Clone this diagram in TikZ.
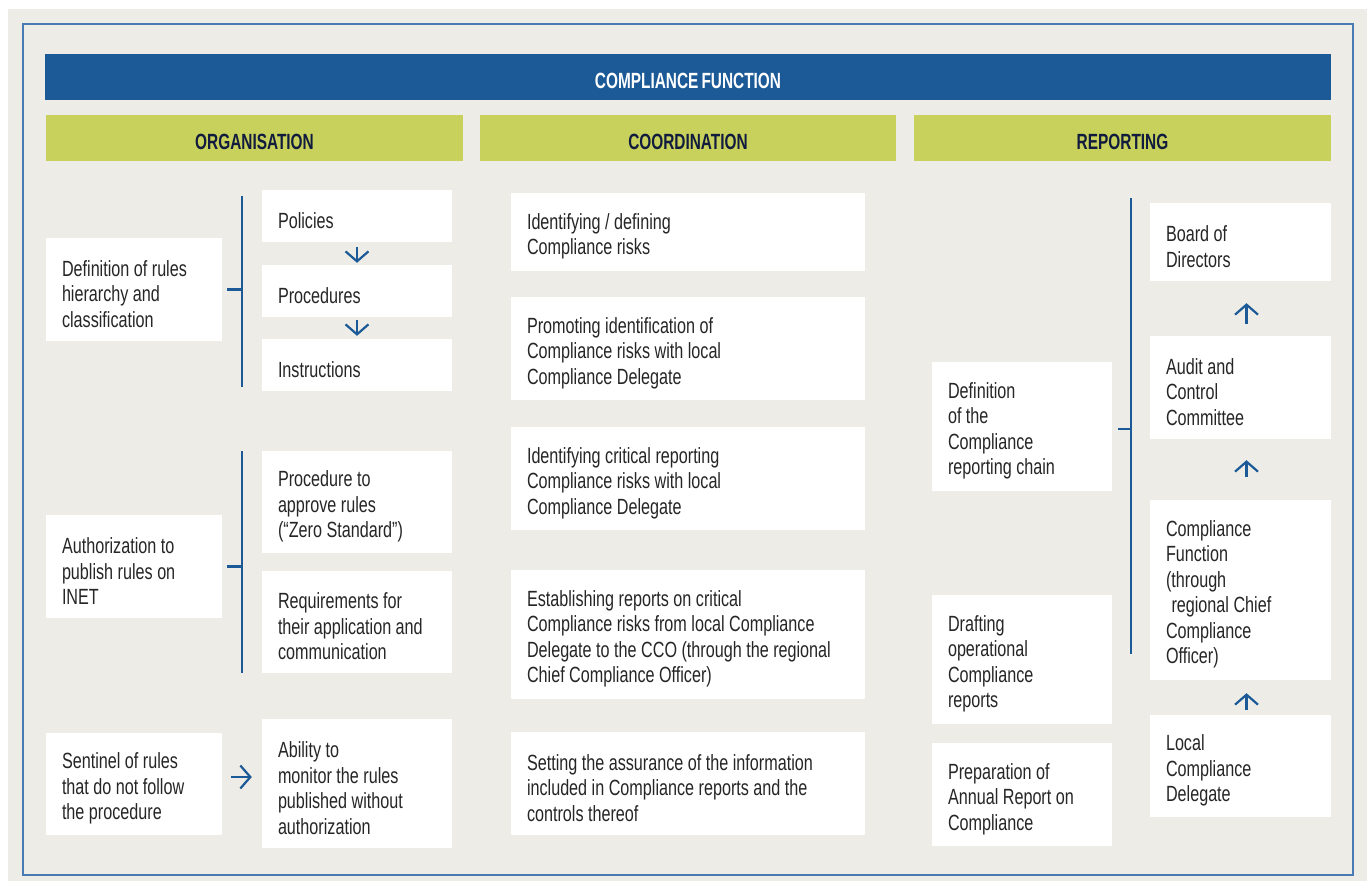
\documentclass[tikz,border=0pt]{standalone}
\usepackage{fontspec}
\setmainfont{Liberation Sans}[FakeStretch=0.735]
\newfontfamily\hdfont{Liberation Sans}[FakeStretch=0.70,WordSpace=0.72]
\usetikzlibrary{arrows.meta}
\definecolor{bg}{HTML}{EDECE7}
\definecolor{bl}{HTML}{1B5A96}
\definecolor{gr}{HTML}{C8D15B}
\definecolor{bd}{HTML}{4A7AB3}
\definecolor{tx}{HTML}{262626}
\definecolor{hd}{HTML}{111B3D}
\newcommand\bodyfnt{\fontsize{22}{25.5}\selectfont\spaceskip 4.5pt plus 1pt minus 0.5pt\relax}
\newcommand\mkbox[6]{%
  \pgfmathsetmacro\mkw{#4-#2}%
  \pgfmathsetmacro\mkh{#5-#3}%
  \pgfmathsetmacro\mktw{#4-#2-32}%
  \node[wbox, minimum width=\mkw pt, minimum height=\mkh pt, text width=\mktw pt] (#1) at ({(#2+#4)/2},{(#3+#5)/2}) {#6};}
\begin{document}
\begin{tikzpicture}[x=1pt,y=-1pt,
  wbox/.style={fill=white, inner xsep=16pt, inner ysep=0pt, align=flush left, text=tx,
    font=\bodyfnt, text height=25pt},
  hdr/.style={inner sep=0pt, font=\hdfont\bfseries\fontsize{22}{26}\selectfont,
    text height=22pt, text depth=0pt},
  arr/.style={draw=bl, line width=2.2pt, -{Straight Barb[length=10pt,width=23pt]}},
  brk/.style={draw=bl, line width=2.3pt}]
\useasboundingbox (0,0) rectangle (1367,881);
\fill[white] (0,0) rectangle (1367,881);
\fill[bg] (8,9) rectangle (1367,881);
\draw[bd, line width=1.3pt] (23,24) rectangle (1353,875);

% headers
\node[hdr, fill=bl, text=white, minimum width=1286pt, minimum height=46pt] (cf) at (688,77) {COMPLIANCE FUNCTION};
\node[hdr, fill=gr, text=hd, minimum width=417pt, minimum height=46pt] (org) at (254.5,138) {ORGANISATION};
\node[hdr, fill=gr, text=hd, minimum width=416pt, minimum height=46pt] (coo) at (688,138) {COORDINATION};
\node[hdr, fill=gr, text=hd, minimum width=417pt, minimum height=46pt] (rep) at (1122.5,138) {REPORTING};

% organisation column
\mkbox{def}{46}{238}{222}{341}{Definition of rules\\hierarchy and\\classification}
\mkbox{pol}{262}{190}{452}{242}{Policies}
\mkbox{proc}{262}{265}{452}{317}{Procedures}
\mkbox{ins}{262}{339}{452}{391}{Instructions}
\mkbox{aut}{46}{515}{222}{618}{Authorization to\\publish rules on\\INET}
\mkbox{zero}{262}{451}{452}{553}{Procedure to\\approve rules\\(“Zero Standard”)}
\mkbox{req}{262}{571}{452}{673}{Requirements for\\their application and\\communication}
\mkbox{sen}{46}{733}{222}{835}{Sentinel of rules\\that do not follow\\the procedure}
\mkbox{abl}{262}{719}{452}{848}{Ability to\\monitor the rules\\published without\\authorization}

% coordination column
\mkbox{c1}{511}{193}{865}{271}{Identifying / defining\\Compliance risks}
\mkbox{c2}{511}{297}{865}{400}{Promoting identification of\\Compliance risks with local\\Compliance Delegate}
\mkbox{c3}{511}{427}{865}{530}{Identifying critical reporting\\Compliance risks with local\\Compliance Delegate}
\mkbox{c4}{511}{570}{865}{699}{Establishing reports on critical\\Compliance risks from local Compliance\\Delegate to the CCO (through the regional\\Chief Compliance Officer)}
\mkbox{c5}{511}{732}{865}{835}{Setting the assurance of the information\\included in Compliance reports and the\\controls thereof}

% reporting column
\mkbox{rch}{932}{362}{1112}{491}{Definition\\of the\\Compliance\\reporting chain}
\mkbox{dra}{932}{595}{1112}{724}{Drafting\\operational\\Compliance\\reports}
\mkbox{ann}{932}{743}{1112}{846}{Preparation of\\Annual Report on\\Compliance}
\mkbox{bod}{1150}{203}{1331}{281}{Board of\\Directors}
\mkbox{aud}{1150}{336}{1331}{439}{Audit and\\Control\\Committee}
\mkbox{cfn}{1150}{500}{1331}{680}{Compliance\\Function\\(through\\\hspace*{0.25em}regional Chief\\Compliance\\Officer)}
\mkbox{loc}{1150}{715}{1331}{817}{Local\\Compliance\\Delegate}

% arrows
\draw[arr, shorten <=5pt, shorten >=2pt] (pol.south) -- (proc.north);
\draw[arr, shorten <=3pt, shorten >=3pt] (proc.south) -- (ins.north);
\coordinate (sa) at ([yshift=7pt]sen.east);
\draw[arr, shorten <=9pt, shorten >=10pt] (sa) -- (sa -| abl.west);
\draw[arr, shorten <=12pt, shorten >=22pt] ([xshift=6pt]aud.north) -- ([xshift=6pt]bod.south);
\draw[arr, shorten <=23pt, shorten >=21pt] ([xshift=6pt]cfn.north) -- ([xshift=6pt]aud.south);
\draw[arr, shorten <=5pt, shorten >=13pt] ([xshift=6pt]loc.north) -- ([xshift=6pt]cfn.south);

% brackets
\coordinate (b1t) at (242,196); \coordinate (b1b) at (242,387);
\draw[brk] (b1t) -- (b1b);
\draw[brk] ([xshift=5pt]def.east) -- (def.east -| b1t);
\coordinate (b2t) at (242,451); \coordinate (b2b) at (242,673);
\draw[brk] (b2t) -- (b2b);
\draw[brk] ([xshift=5pt]aut.east) -- (aut.east -| b2t);
\coordinate (b3t) at (1131,198); \coordinate (b3b) at (1131,654);
\draw[brk] (b3t) -- (b3b);
\coordinate (t3) at ([xshift=6pt,yshift=-2.5pt]rch.east);
\draw[brk] (t3) -- (t3 -| b3t);
\end{tikzpicture}
\end{document}
